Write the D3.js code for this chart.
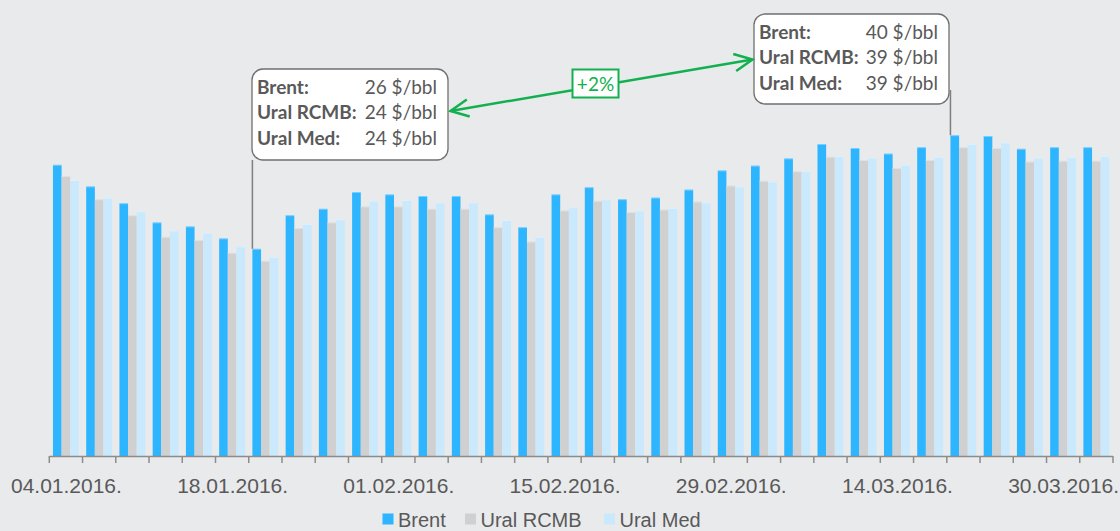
<!DOCTYPE html>
<html>
<head>
	<title>index</title>
	<meta charset="utf-8">
	<script src="https://d3js.org/d3.v7.min.js" charset="utf-8"></script>
	<style>
		html, body {
			margin: 0;
			padding: 0;
			background-color: #e9eaec;
		}
		svg {
			display: block;
		}
		.axis text {
			font-family: "Liberation Sans", Arial, sans-serif;
			font-size: 21px;
			fill: #595959;
		}
		.note text {
			font-family: Lato, "Open Sans", sans-serif;
			font-size: 19px;
			fill: #595959;
		}
		.legend text {
			font-family: "Liberation Sans", Arial, sans-serif;
			font-size: 20px;
			fill: #595959;
		}
	</style>
</head>
<body>
<script>

	var dates = ["04.01", "06.01", "08.01", "12.01", "14.01", "18.01", "20.01", "22.01",
		"26.01", "28.01", "01.02", "03.02", "05.02", "09.02", "11.02", "15.02",
		"17.02", "19.02", "23.02", "25.02", "29.02", "02.03", "04.03", "08.03",
		"10.03", "14.03", "16.03", "18.03", "22.03", "24.03", "30.03", "31.03"];

	var series = ["Brent", "Ural RCMB", "Ural Med"];
	var colors = ["#2db5ff", "#d0d0d0", "#cbe9fc"];

	var brent = [36.4, 33.7, 31.6, 29.2, 28.7, 27.2, 25.9, 30.1,
		30.9, 33.0, 32.7, 32.5, 32.5, 30.2, 28.6, 32.7,
		33.6, 32.1, 32.3, 33.3, 35.7, 36.3, 37.2, 39.0,
		38.5, 37.8, 38.6, 40.1, 40.0, 38.4, 38.6, 38.6];
	var uralRcmb = [35.0, 32.1, 30.1, 27.4, 27.0, 25.4, 24.4, 28.5,
		29.2, 31.2, 31.2, 30.9, 30.9, 28.6, 26.8, 30.7,
		31.9, 30.5, 30.8, 31.8, 33.8, 34.4, 35.6, 37.4,
		37.0, 36.0, 37.0, 38.6, 38.5, 36.8, 36.9, 36.9];
	var uralMed = [34.5, 32.3, 30.6, 28.2, 27.9, 26.2, 24.9, 29.0,
		29.6, 31.9, 32.0, 31.7, 31.7, 29.5, 27.4, 31.1,
		32.1, 30.7, 31.0, 31.7, 33.7, 34.3, 35.6, 37.5,
		37.3, 36.4, 37.4, 39.0, 39.2, 37.3, 37.4, 37.5];

	var labelEvery = 5;
	var year = ".2016.";

	// the two callouts: category index, three lines of text
	var noteLow = { idx: 6, lines: [["Brent:", "26 $/bbl"], ["Ural RCMB:", "24 $/bbl"], ["Ural Med:", "24 $/bbl"]] };
	var noteHigh = { idx: 27, lines: [["Brent:", "40 $/bbl"], ["Ural RCMB:", "39 $/bbl"], ["Ural Med:", "39 $/bbl"]] };
	var change = "+2%";

	var width = 1120, height = 531;
	var svg = d3.select("body").append("svg").attr("width", width).attr("height", height);

	var x0 = d3.scaleBand().domain(dates).range([49.3, 1113]).padding(0);
	var x1 = d3.scaleBand().domain(series).range([x0.bandwidth() * 0.11, x0.bandwidth() * 0.89]).padding(0);
	var y = d3.scaleLinear().domain([0, 50]).range([456, 56]);

	var rows = dates.map(function(d, i) {
		return { date: d, values: [brent[i], uralRcmb[i], uralMed[i]] };
	});

	// bars
	var groups = svg.append("g").selectAll("g").data(rows).enter().append("g")
		.attr("transform", function(d) { return "translate(" + x0(d.date) + ",0)"; });

	groups.selectAll("rect").data(function(d) {
		return d.values.map(function(v, j) { return { key: series[j], value: v, col: colors[j] }; });
	}).enter().append("rect")
		.attr("x", function(d) { return x1(d.key); })
		.attr("width", x1.bandwidth())
		.attr("y", function(d) { return y(d.value); })
		.attr("height", function(d) { return y(0) - y(d.value); })
		.attr("fill", function(d) { return d.col; });

	// thin lighter edge on top of the bars
	groups.selectAll("line.top").data(function(d) {
		return d.values.map(function(v, j) { return { key: series[j], value: v }; });
	}).enter().append("line").attr("class", "top")
		.attr("x1", function(d) { return x1(d.key); })
		.attr("x2", function(d) { return x1(d.key) + x1.bandwidth(); })
		.attr("y1", function(d) { return y(d.value) + 0.5; })
		.attr("y2", function(d) { return y(d.value) + 0.5; })
		.attr("stroke", "#ffffff").attr("stroke-opacity", 0.35).attr("stroke-width", 1);

	// axis
	var axisG = svg.append("g").attr("class", "axis");
	axisG.append("line")
		.attr("x1", x0.range()[0]).attr("x2", x0.range()[1])
		.attr("y1", y(0) + 0.5).attr("y2", y(0) + 0.5)
		.attr("stroke", "#8c8c8c").attr("stroke-width", 1.5);

	var bounds = dates.map(function(d) { return x0(d); }).concat([x0.range()[1]]);
	axisG.selectAll("line.tick").data(bounds).enter().append("line").attr("class", "tick")
		.attr("x1", function(d) { return d; }).attr("x2", function(d) { return d; })
		.attr("y1", y(0)).attr("y2", y(0) + 7)
		.attr("stroke", "#8c8c8c").attr("stroke-width", 1.5);

	var labelled = dates.filter(function(d, i) { return i % labelEvery === 0; });
	var ax = svg.append("g").attr("class", "axis")
		.attr("transform", "translate(" + (x0.bandwidth() / 2) + "," + y(0) + ")")
		.call(d3.axisBottom(d3.scalePoint().domain(dates).range([x0(dates[0]), x0(dates[dates.length - 1])]))
			.tickValues(labelled).tickSize(0).tickPadding(20)
			.tickFormat(function(d) { return d + year; }));
	ax.select(".domain").remove();
	ax.selectAll("text").attr("dy", null).attr("y", 36.5);

	// callouts
	function callout(note, bx, by, bw, bh, leaderFrom) {
		var g = svg.append("g").attr("class", "note");
		var lx = x0(dates[note.idx]) + x1("Brent");
		g.append("line")
			.attr("x1", lx).attr("x2", lx)
			.attr("y1", leaderFrom).attr("y2", y(brent[note.idx]))
			.attr("stroke", "#7f7f7f").attr("stroke-width", 1.5);
		g.append("rect")
			.attr("x", bx).attr("y", by).attr("width", bw).attr("height", bh)
			.attr("rx", 11).attr("ry", 11)
			.attr("fill", "#ffffff").attr("stroke", "#6f6f6f").attr("stroke-width", 1.3);
		note.lines.forEach(function(l, i) {
			g.append("text").attr("x", bx + 5).attr("y", by + 24.5 + i * 25.8)
				.attr("font-weight", "bold").text(l[0]);
			g.append("text").attr("x", bx + bw - 11).attr("y", by + 24.5 + i * 25.8)
				.attr("text-anchor", "end").text(l[1]);
		});
	}
	callout(noteLow, 252, 69, 196, 91, 160);
	callout(noteHigh, 754, 14, 195, 90, 90);

	// green arrow between the callouts
	var green = "#12b04e";
	var a = [450.5, 111], b = [752.5, 59.5];
	var arrow = svg.append("g");
	arrow.append("line")
		.attr("x1", a[0]).attr("y1", a[1]).attr("x2", b[0]).attr("y2", b[1])
		.attr("stroke", green).attr("stroke-width", 2.5);
	function head(tip, from) {
		var ang = Math.atan2(from[1] - tip[1], from[0] - tip[0]);
		var len = 20, spread = 0.45;
		var p1 = [tip[0] + len * Math.cos(ang + spread), tip[1] + len * Math.sin(ang + spread)];
		var p2 = [tip[0] + len * Math.cos(ang - spread), tip[1] + len * Math.sin(ang - spread)];
		arrow.append("path")
			.attr("d", "M" + p1 + "L" + tip + "L" + p2)
			.attr("fill", "none").attr("stroke", green).attr("stroke-width", 2.5)
			.attr("stroke-linejoin", "miter");
	}
	head(a, b);
	head(b, a);
	arrow.append("rect")
		.attr("x", 572.5).attr("y", 69.5).attr("width", 46).attr("height", 28)
		.attr("fill", "#ffffff").attr("stroke", green).attr("stroke-width", 2);
	arrow.append("text")
		.attr("x", 595.5).attr("y", 90.5)
		.attr("text-anchor", "middle")
		.style("font-family", "Lato, 'Open Sans', sans-serif").style("font-size", "19px")
		.attr("fill", green).text(change);

	// legend
	var legendX = [382.5, 465, 604];
	var leg = svg.append("g").attr("class", "legend");
	var items = leg.selectAll("g").data(series).enter().append("g")
		.attr("transform", function(d, i) { return "translate(" + legendX[i] + ",0)"; });
	items.append("rect").attr("x", 0).attr("y", 513.5).attr("width", 11).attr("height", 11)
		.attr("fill", function(d, i) { return colors[i]; });
	items.append("text").attr("x", 15.5).attr("y", 526.5).text(function(d) { return d; });

</script>
</body>
</html>
